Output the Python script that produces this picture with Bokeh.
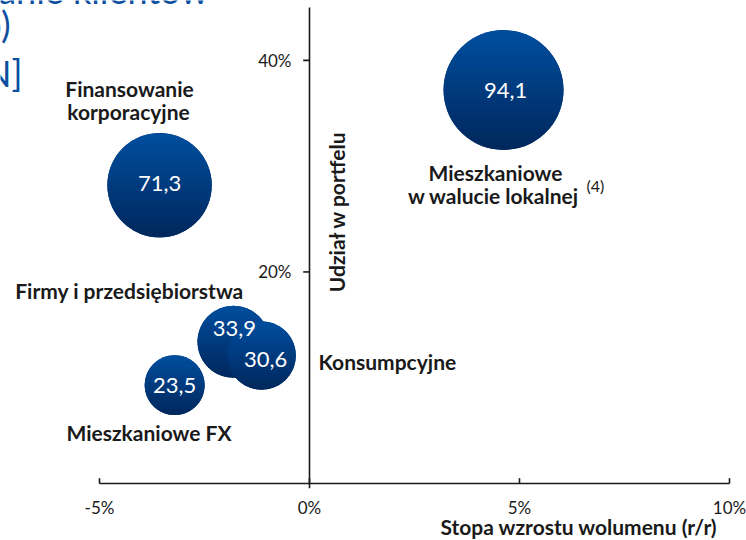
import math
from bokeh.plotting import figure
from bokeh.models import Range1d
from bokeh.core.properties import value
from bokeh.embed import file_html
from bokeh.resources import INLINE

# ---------------- data ----------------
categories = ["Mieszkaniowe w walucie lokalnej", "Finansowanie korporacyjne",
              "Firmy i przedsiębiorstwa", "Konsumpcyjne", "Mieszkaniowe FX"]
growth = [4.62, -3.57, -1.81, -1.14, -3.21]        # Stopa wzrostu wolumenu (r/r), %
share = [37.2, 28.2, 13.4, 12.1, 9.3]              # Udział w portfelu, %
volume = [94.1, 71.3, 33.9, 30.6, 23.5]            # bubble size
volume_labels = ["94,1", "71,3", "33,9", "30,6", "23,5"]

x_ticks = [-5, 0, 5, 10]
x_tick_labels = ["-5%", "0%", "5%", "10%"]
y_ticks = [20, 40]
y_tick_labels = ["20%", "40%"]

x_title = "Stopa wzrostu wolumenu (r/r)"
y_title = "Udział w portfelu"
title_lines = ["Kredytowanie klientów", "(brutto)", "[mld PLN]"]

# ---------------- layout / style ----------------
W, H = 746, 540
FONT = value("Lato")
DARK = "#1a1a1a"
BLUE = "#0d4f9f"
BUBBLE = "#003a7c"
GRAD_TOP = (0x00, 0x4e, 0x9f)
GRAD_BOT = (0x00, 0x27, 0x5c)
SIZE_K = 12.36   # px of diameter per sqrt(volume)

X0, X1 = -7.357, 10.405
Y0, Y1 = -5.389, 45.662
ppx = W / (X1 - X0)
ppy = H / (Y1 - Y0)

p = figure(width=W, height=H,
           x_range=Range1d(X0, X1), y_range=Range1d(Y0, Y1),
           output_backend="svg", toolbar_location=None, min_border=0,
           x_axis_location=None, y_axis_location=None,
           outline_line_color=None, background_fill_color="white",
           border_fill_color="white")
p.grid.visible = False

# axes lines
p.line(x=[x_ticks[0], x_ticks[-1]], y=[0, 0], line_color=DARK, line_width=1.6)
p.line(x=[0, 0], y=[-0.45, 45], line_color=DARK, line_width=1.6)
p.segment(x0=x_ticks, y0=[0] * len(x_ticks), x1=x_ticks, y1=[0.5] * len(x_ticks),
          line_color=DARK, line_width=1.6)
p.segment(x0=[-0.15] * len(y_ticks), y0=y_ticks, x1=[0] * len(y_ticks), y1=y_ticks,
          line_color=DARK, line_width=1.6)

# tick labels
p.text(x=x_ticks, y=[0] * len(x_ticks), text=x_tick_labels, text_align="center",
       text_baseline="middle", y_offset=24, text_font=FONT,
       text_font_size="17px", text_color=DARK)
p.text(x=[0] * len(y_ticks), y=y_ticks, text=y_tick_labels, text_align="right",
       text_baseline="middle", x_offset=-18, text_font=FONT,
       text_font_size="17px", text_color=DARK)

# bubbles (solid base + vertical gradient bands on top)
sizes = [SIZE_K * math.sqrt(v) for v in volume]
p.scatter(x=growth, y=share, size=sizes, marker="circle",
          fill_color=BUBBLE, line_color=None)

NB = 28
bx, by, bc = [], [], []
for cx, cy, s in zip(growth, share, sizes):
    r = s / 2.0
    for k in range(NB):
        t0 = -r + 2 * r * k / NB
        t1 = min(r, t0 + 2 * r / NB + 0.7)
        ts = [t0 + (t1 - t0) * j / 5 for j in range(6)]
        left = [(cx - math.sqrt(max(r * r - t * t, 0)) / ppx, cy - t / ppy) for t in ts]
        right = [(cx + math.sqrt(max(r * r - t * t, 0)) / ppx, cy - t / ppy) for t in reversed(ts)]
        pts = left + right
        bx.append([q[0] for q in pts])
        by.append([q[1] for q in pts])
        f = (k + 0.5) / NB
        col = tuple(int(round(a + (b - a) * f)) for a, b in zip(GRAD_TOP, GRAD_BOT))
        bc.append("#%02x%02x%02x" % col)
p.patches(xs=bx, ys=by, fill_color=bc, line_color=None)

lbl_dx = [2, 0, 1, 4, 0]
lbl_dy = [0, -2, -13, 4, 0]
p.text(x=growth, y=share, text=volume_labels, text_align="center",
       text_baseline="middle", x_offset=lbl_dx, y_offset=lbl_dy,
       text_font=FONT, text_font_size="22px", text_color="white")


def lab(text, px, py, align="left", size="21px", style="bold", color=DARK,
        angle=0.0):
    # px, py: layout position (visual centre line) in canvas pixels from top-left
    p.text(x=[X0 + px / ppx], y=[Y1 - py / ppy], text=[text], text_align=align,
           text_baseline="middle", text_font=FONT, text_font_size=size,
           text_font_style=style, text_color=color, angle=angle)


# category labels
lab("Finansowanie", 129, 88, "center")
lab("korporacyjne", 128, 111, "center")
lab("Firmy i przedsiębiorstwa", 129, 290, "center")
lab("Konsumpcyjne", 318, 361)
lab("Mieszkaniowe FX", 66, 432)
lab("Mieszkaniowe", 495, 172, "center")
lab("w walucie lokalnej", 493, 195, "center")
lab("(4)", 586, 185, size="16px", style="normal")

# axis titles
lab(y_title, 336, 211, "center", angle=math.pi / 2)
lab(x_title, 717, 526, "right", size="21px")

# title (cut off at the left in the original)
lab(title_lines[0], 208, -11, "right", size="36px", style="normal", color=BLUE)
lab(title_lines[1], 10, 23, "right", size="36px", style="normal", color=BLUE)
lab(title_lines[2], 22, 72, "right", size="36px", style="normal", color=BLUE)

open("out.html", "w").write(file_html(p, INLINE))
